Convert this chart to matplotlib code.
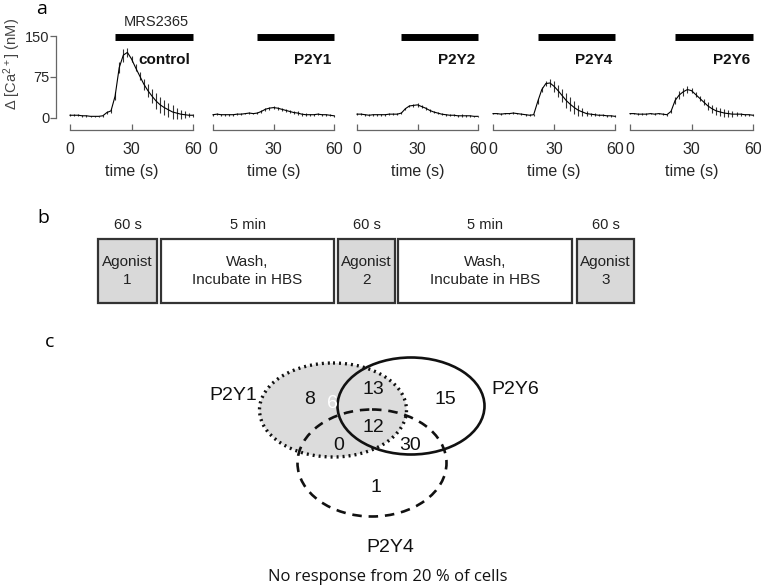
import matplotlib
matplotlib.use("Agg")
import matplotlib.pyplot as plt
from matplotlib.patches import Ellipse, Rectangle

plt.rcParams["font.family"] = ["Liberation Sans", "DejaVu Sans"]
plt.rcParams["mathtext.default"] = "regular"

# ---- panel a data: mean and SEM of delta [Ca2+] (nM), every 2 s
time_s = list(range(0, 61, 2))
receptors = ["control", "P2Y1", "P2Y2", "P2Y4", "P2Y6"]
control_mean = [5, 5, 5, 4, 4, 3, 3, 3, 4, 10, 13, 40, 92, 115, 120, 108,
                92, 77, 62, 50, 40, 31, 24, 19, 15, 11, 9, 7, 6, 5, 5]
control_sem = [1.5, 1.5, 1.5, 1.5, 1.5, 1.5, 1.5, 1.5, 2, 3, 3, 8, 10, 12, 8,
               6, 6, 8, 10, 12, 13, 14, 14, 14, 13, 12, 10, 8, 6, 4, 3]
p2y1_mean = [6, 7, 6, 6, 6, 6, 7, 7, 8, 9, 8, 9, 12, 16, 18, 19,
             18, 16, 14, 12, 10, 9, 7, 6, 6, 6, 7, 6, 6, 5, 4]
p2y1_sem = [1.5, 1.5, 1.5, 1.5, 1.5, 1.5, 1.5, 1.5, 1.5, 1.5, 1.5, 2, 2, 2.5,
            2.5, 3, 3, 3, 3, 3, 3, 3, 2.5, 2.5, 2, 2, 2, 2, 1.5, 1.5, 1.5]
p2y2_mean = [7, 7, 6, 5, 6, 6, 6, 6, 7, 7, 7, 9, 17, 22, 23, 24,
             21, 18, 14, 11, 9, 7, 6, 5, 5, 4, 4, 4, 4, 3, 3]
p2y2_sem = [1.5, 1.5, 1.5, 1.5, 1.5, 1.5, 1.5, 1.5, 1.5, 1.5, 1.5, 1.5, 2, 2.5,
            3, 3, 3, 3, 2.5, 2.5, 2, 2, 2, 2, 2, 2, 2.5, 2, 2, 1.5, 1.5]
p2y4_mean = [8, 8, 7, 8, 8, 9, 8, 7, 6, 5, 6, 30, 52, 63, 64, 58,
             50, 41, 32, 25, 19, 14, 11, 8, 7, 6, 5, 5, 4, 4, 3]
p2y4_sem = [1.5, 1.5, 1.5, 1.5, 1.5, 1.5, 1.5, 1.5, 1.5, 1.5, 2, 4, 5, 5, 8,
            10, 11, 12, 13, 13, 12, 10, 7, 4, 3, 3, 2, 2, 2, 2, 2]
p2y6_mean = [8, 8, 7, 7, 7, 8, 7, 8, 7, 6, 12, 32, 42, 48, 52, 50,
             43, 36, 29, 22, 17, 13, 11, 9, 8, 7, 7, 7, 6, 6, 5]
p2y6_sem = [1.5, 1.5, 1.5, 1.5, 1.5, 1.5, 1.5, 1.5, 1.5, 1.5, 3, 6, 7, 7, 6,
            5, 4, 5, 6, 7, 7, 7, 7, 7, 6, 5, 4, 3, 2, 2, 2]
traces = [(control_mean, control_sem), (p2y1_mean, p2y1_sem),
          (p2y2_mean, p2y2_sem), (p2y4_mean, p2y4_sem), (p2y6_mean, p2y6_sem)]
agonist_on = 22
agonist_name = "MRS2365"

# ---- panel b data: protocol
step_names = ["Agonist\n1", "Wash,\nIncubate in HBS", "Agonist\n2",
              "Wash,\nIncubate in HBS", "Agonist\n3"]
step_durations = ["60 s", "5 min", "60 s", "5 min", "60 s"]
step_is_agonist = [True, False, True, False, True]

# ---- panel c data: Venn counts
venn_sets = ["P2Y1", "P2Y6", "P2Y4"]
venn_counts = ["8", "6", "13", "15", "12", "0", "30", "1"]
no_response_pct = 20

# layout (pixels in a 761 x 586 figure)
W, H = 761, 586
panel_x = [(70, 193), (213, 334), (357, 478), (493, 615), (630, 753)]
panel_top, panel_bottom = 36, 130
box_x = [(98, 157), (161, 334), (338, 395), (398, 572), (577, 634)]
box_top, box_bottom = 239, 303
venn_count_xy = [(310, 399), (332, 403), (373, 390), (445, 400),
                 (373, 427), (339, 446), (410, 445), (376, 488)]
venn_count_color = ["#111", "white", "#111", "#111", "#111", "#111", "#111", "#111"]

fig = plt.figure(figsize=(W / 100, H / 100), dpi=100)

# overlay axes in pixel coordinates for panels b, c and the letters
bg = fig.add_axes([0, 0, 1, 1])
bg.set_xlim(0, W)
bg.set_ylim(H, 0)
bg.axis("off")

letter_font = ["Open Sans", "DejaVu Sans"]
bg.text(42, 9, "a", fontsize=14, family=letter_font, ha="center", va="center")
bg.text(43, 218, "b", fontsize=14, family=letter_font, ha="center", va="center")
bg.text(50, 342, "c", fontsize=14, family=letter_font, ha="center", va="center")

# y label of panel a
bg.text(12, 64, r"$\Delta$ [Ca$^{2+}$] (nM)", fontsize=10.5, color="#444",
        rotation=90, ha="center", va="center")

# ---- panel a
axis_col = "#666666"
text_col = "#262626"
for i, (name, (mean, sem)) in enumerate(zip(receptors, traces)):
    x0, x1 = panel_x[i]
    ax = fig.add_axes([x0 / W, 1 - panel_bottom / H, (x1 - x0) / W,
                       (panel_bottom - panel_top) / H])
    ax.set_xlim(0, 60)
    ax.set_ylim(-22, 150)
    ax.patch.set_visible(False)
    ax.errorbar(time_s, mean, yerr=sem, color="black", lw=0.8,
                ecolor="#333333", elinewidth=0.8, capsize=0, clip_on=False)
    ax.plot([agonist_on, 60], [149, 149], color="black", lw=5,
            solid_capstyle="butt", clip_on=False)
    ax.text(58.5, 106, name, fontsize=11, fontweight="bold", ha="right",
            va="center", color="#111")
    for s in ["top", "right"]:
        ax.spines[s].set_visible(False)
    ax.spines["bottom"].set_color(axis_col)
    ax.spines["bottom"].set_linewidth(0.9)
    ax.spines["bottom"].set_bounds(0, 60)
    ax.set_xticks([0, 30, 60])
    ax.tick_params(axis="x", direction="in", length=4.5, width=0.9,
                   color=axis_col, labelsize=11.5, labelcolor=text_col, pad=9)
    ax.set_xlabel("time (s)", fontsize=11.5, color=text_col, labelpad=5)
    if i == 0:
        ax.spines["left"].set_position(("outward", 10))
        ax.spines["left"].set_bounds(0, 150)
        ax.spines["left"].set_color(axis_col)
        ax.spines["left"].set_linewidth(0.9)
        ax.set_yticks([0, 75, 150])
        ax.tick_params(axis="y", direction="out", length=4, width=0.9,
                       color=axis_col, labelsize=10.5, labelcolor=text_col, pad=1)
        ax.text(42, 175, agonist_name, fontsize=10.5, ha="center", va="center",
                color=text_col, clip_on=False)
    else:
        ax.spines["left"].set_visible(False)
        ax.set_yticks([])

# ---- panel b
for (bx0, bx1), name, dur, ag in zip(box_x, step_names, step_durations,
                                      step_is_agonist):
    bg.add_patch(Rectangle((bx0, box_top), bx1 - bx0, box_bottom - box_top,
                           facecolor="#d9d9d9" if ag else "white",
                           edgecolor="#333333", lw=1.6))
    bg.text((bx0 + bx1) / 2, (box_top + box_bottom) / 2, name, fontsize=11,
            ha="center", va="center", color="#222", linespacing=1.3)
    bg.text((bx0 + bx1) / 2, 225, dur, fontsize=10.5, ha="center", va="center",
            color="#222")

# ---- panel c
bg.add_patch(Ellipse((333, 410), 147, 94, facecolor="#dcdcdc",
                     edgecolor="none", zorder=1))
bg.add_patch(Ellipse((333, 410), 147, 94, facecolor="none", edgecolor="#111",
                     lw=2.4, linestyle=(0, (0.6, 1.2)), zorder=3))
bg.add_patch(Ellipse((411, 406), 147, 97, facecolor="none", edgecolor="#111",
                     lw=1.9, zorder=3))
bg.add_patch(Ellipse((372, 463), 149, 107, facecolor="none", edgecolor="#111",
                     lw=1.9, linestyle=(0, (3.6, 2.6)), zorder=3))
for (cx, cy), val, col in zip(venn_count_xy, venn_counts, venn_count_color):
    bg.text(cx, cy, val, fontsize=14, ha="center", va="center", color=col,
            zorder=4)
bg.text(233, 395, venn_sets[0], fontsize=14, ha="center", va="center", color="#111")
bg.text(515, 389, venn_sets[1], fontsize=14, ha="center", va="center", color="#111")
bg.text(390, 547, venn_sets[2], fontsize=14, ha="center", va="center", color="#111")
bg.text(388, 577, f"No response from {no_response_pct} % of cells", fontsize=12,
        family=letter_font, ha="center", va="center", color="#111")

fig.savefig("out.png", dpi=100)
